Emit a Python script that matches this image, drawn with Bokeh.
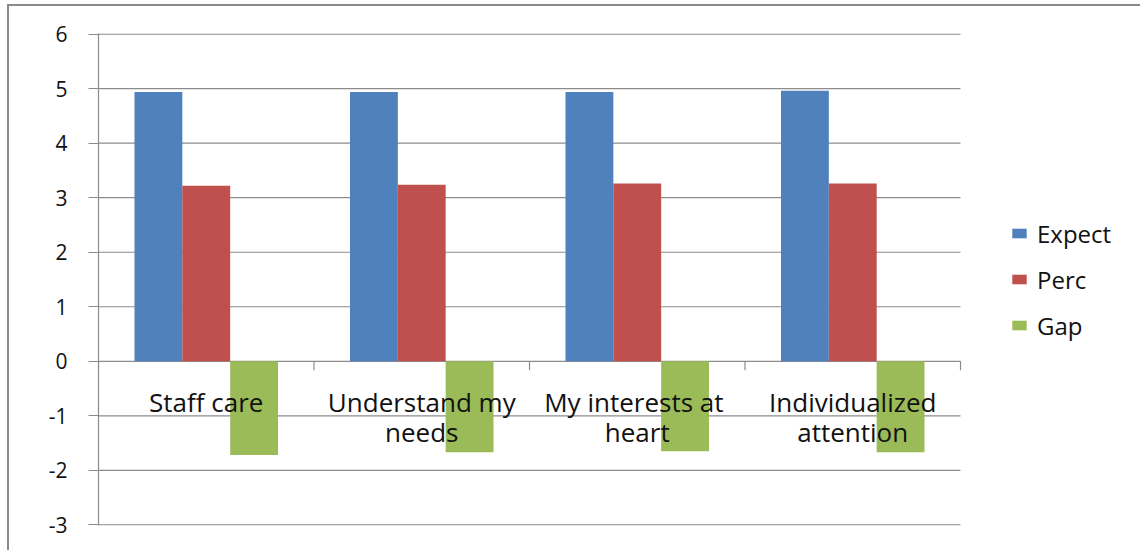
from math import pi
from bokeh.plotting import figure
from bokeh.models import (Range1d, FixedTicker, Legend, LegendItem,
                          ColumnDataSource, PrintfTickFormatter)
from bokeh.transform import dodge
from bokeh.core.properties import value
from bokeh.embed import file_html
from bokeh.resources import INLINE

categories = ["Staff care", "Understand my needs", "My interests at heart", "Individualized attention"]
category_labels = ["Staff care", "Understand my\nneeds", "My interests  at\nheart", "Individualized\nattention"]
expect = [4.94, 4.94, 4.94, 4.96]
perc = [3.22, 3.24, 3.26, 3.26]
gap = [-1.72, -1.67, -1.65, -1.67]
y_ticks = [-3, -2, -1, 0, 1, 2, 3, 4, 5, 6]
series = ["Expect", "Perc", "Gap"]
colors = ["#4F81BD", "#C0504D", "#9BBB59"]

FONT = "Open Sans"
GRID = "#8c8c8c"
TXT = "#111111"

n = len(categories)
pos = [i + 0.5 for i in range(n)]          # category centres on a numeric axis
src = ColumnDataSource(dict(x=pos, cat=categories, label=category_labels,
                            Expect=expect, Perc=perc, Gap=gap,
                            zero=[0] * n))

CANVAS_W, CANVAS_H = 1133, 546
LEFT = 89
CAT_AREA = 862                              # pixels covered by the category axis
FRAME_W = CANVAS_W - LEFT
eps = 0.012
p = figure(width=CANVAS_W, height=CANVAS_H, output_backend="svg", toolbar_location=None,
           x_range=Range1d(0, n * FRAME_W / CAT_AREA),
           y_range=Range1d(y_ticks[0] - eps, y_ticks[-1] + eps),
           min_border_left=LEFT, min_border_right=0, min_border_top=27, min_border_bottom=27,
           styles={"margin-left": "7px", "margin-top": "4px",
                   "border-left": "2px solid #8a8a8a", "border-top": "2px solid #8a8a8a"})
p.outline_line_color = None
p.background_fill_color = "white"
p.border_fill_color = "white"

p.xaxis.visible = False
p.xgrid.visible = False
p.ygrid.visible = False
p.yaxis.ticker = FixedTicker(ticks=y_ticks)
p.yaxis.formatter = PrintfTickFormatter(format="%d")
p.yaxis.axis_line_color = GRID
p.yaxis.axis_line_width = 1.2
p.yaxis.major_tick_line_color = GRID
p.yaxis.major_tick_line_width = 1.2
p.yaxis.major_tick_in = 0
p.yaxis.major_tick_out = 10
p.yaxis.minor_tick_line_color = None
p.yaxis.major_label_standoff = 21
p.yaxis.major_label_text_font = FONT
p.yaxis.major_label_text_font_size = "21px"
p.yaxis.major_label_text_color = TXT

# horizontal gridlines across the category area only
p.segment(x0=[0] * len(y_ticks), x1=[n] * len(y_ticks), y0=y_ticks, y1=y_ticks,
          line_color=GRID, line_width=1.2)

w = 0.222
offsets = [-w, 0, w]
renderers = []
for s, c, off in zip(series, colors, offsets):
    renderers.append(p.vbar(x=dodge("x", off), top=s, bottom=0, width=w,
                            source=src, fill_color=c, line_color=None))

# category boundary ticks on the zero line
bounds = list(range(n + 1))
p.ray(x=bounds, y=[0] * len(bounds), length=9, length_units="screen",
      angle=-pi / 2, line_color=GRID, line_width=1.2)

p.text(x="x", y="zero", text="label", source=src, text_align="center",
       text_baseline="top", y_offset=23, text_font=value(FONT),
       text_font_size="26px", text_color=TXT, text_line_height=0.82)

legend = Legend(items=[LegendItem(label=s, renderers=[r]) for s, r in zip(series, renderers)],
                location=(912, 183), orientation="vertical", glyph_width=18, glyph_height=12,
                label_height=34, label_standoff=9, spacing=12, padding=0, margin=0,
                label_text_font=FONT, label_text_font_size="24px", label_text_color=TXT,
                border_line_color=None, background_fill_alpha=0)
p.add_layout(legend)

open("out.html", "w").write(file_html(p, INLINE))
